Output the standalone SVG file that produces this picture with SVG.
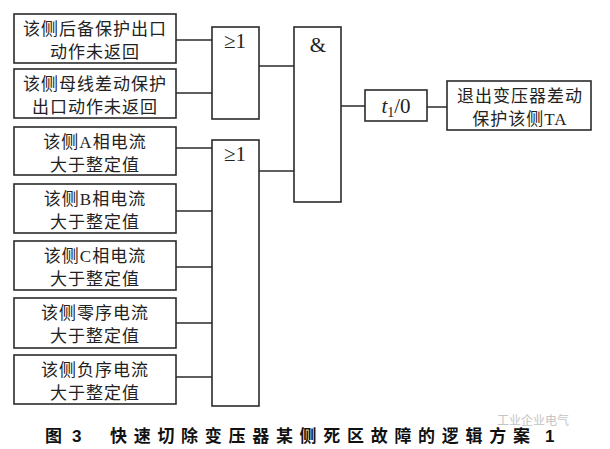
<svg xmlns="http://www.w3.org/2000/svg" width="610" height="449" viewBox="0 0 610 449">
<style>
.box{fill:#fff;stroke:#2b2b2b;stroke-width:1.6}
.t{font-family:"Liberation Serif","Noto Sans CJK SC",serif;font-size:17px;fill:#222;text-anchor:middle;letter-spacing:1px}
.g{font-family:"Liberation Serif","DejaVu Serif",serif;font-size:21px;fill:#222;text-anchor:middle}
.ln{stroke:#2b2b2b;stroke-width:1.6;fill:none}
.cap{font-family:"Liberation Sans","Noto Sans CJK SC",sans-serif;font-size:17px;font-weight:bold;fill:#111}
</style>
<rect width="610" height="449" fill="#fff"/>
<g id="connectors">
<path class="ln" d="M176 40H212M176 93H212M259 66H294M176 148H212M176 211H212M176 267H212M176 323H212M176 377H212M259 171H294M341 106H365M427 107H447"/>
</g>
<g id="in1"><rect class="box" x="14" y="14" width="162" height="49"/><text class="t" x="95" y="35">该侧后备保护出口</text><text class="t" x="95" y="58">动作未返回</text></g>
<g id="in2"><rect class="box" x="14" y="69" width="162" height="49"/><text class="t" x="95" y="90">该侧母线差动保护</text><text class="t" x="95" y="113">出口动作未返回</text></g>
<g id="in3"><rect class="box" x="14" y="127" width="162" height="48"/><text class="t" x="95" y="148">该侧A相电流</text><text class="t" x="95" y="171">大于整定值</text></g>
<g id="in4"><rect class="box" x="14" y="184" width="162" height="49"/><text class="t" x="95" y="205">该侧B相电流</text><text class="t" x="95" y="228">大于整定值</text></g>
<g id="in5"><rect class="box" x="14" y="241" width="162" height="49"/><text class="t" x="95" y="262">该侧C相电流</text><text class="t" x="95" y="285">大于整定值</text></g>
<g id="in6"><rect class="box" x="14" y="298" width="162" height="50"/><text class="t" x="95" y="319">该侧零序电流</text><text class="t" x="95" y="342">大于整定值</text></g>
<g id="in7"><rect class="box" x="14" y="355" width="162" height="49"/><text class="t" x="95" y="376">该侧负序电流</text><text class="t" x="95" y="399">大于整定值</text></g>
<g id="or1"><rect class="box" x="212" y="27" width="47" height="92"/><text class="g" x="235" y="48">≥1</text></g>
<g id="or2"><rect class="box" x="212" y="140" width="47" height="266"/><text class="g" x="235" y="161">≥1</text></g>
<g id="and"><rect class="box" x="294" y="27" width="47" height="175"/><text class="g" x="318" y="52">&amp;</text></g>
<g id="timer"><rect class="box" x="365" y="90" width="62" height="31"/><text class="g" x="396" y="113"><tspan font-style="italic">t</tspan><tspan font-size="14" dy="4">1</tspan><tspan dy="-4">/0</tspan></text></g>
<g id="out"><rect class="box" x="447" y="81" width="144" height="49"/><text class="t" x="520" y="102">退出变压器差动</text><text class="t" x="520" y="125">保护该侧TA</text></g>
<text x="497" y="425" font-family="Noto Sans CJK SC,sans-serif" font-size="12" fill="#c4c4c4">工业企业电气</text>
<g id="caption">
<text class="cap" x="45" y="442">图</text>
<text class="cap" x="72" y="442">3</text>
<text class="cap" x="110" y="442" letter-spacing="6.7">快速切除变压器某侧死区故障的逻辑方案</text>
<text class="cap" x="545" y="442">1</text>
</g>
</svg>
